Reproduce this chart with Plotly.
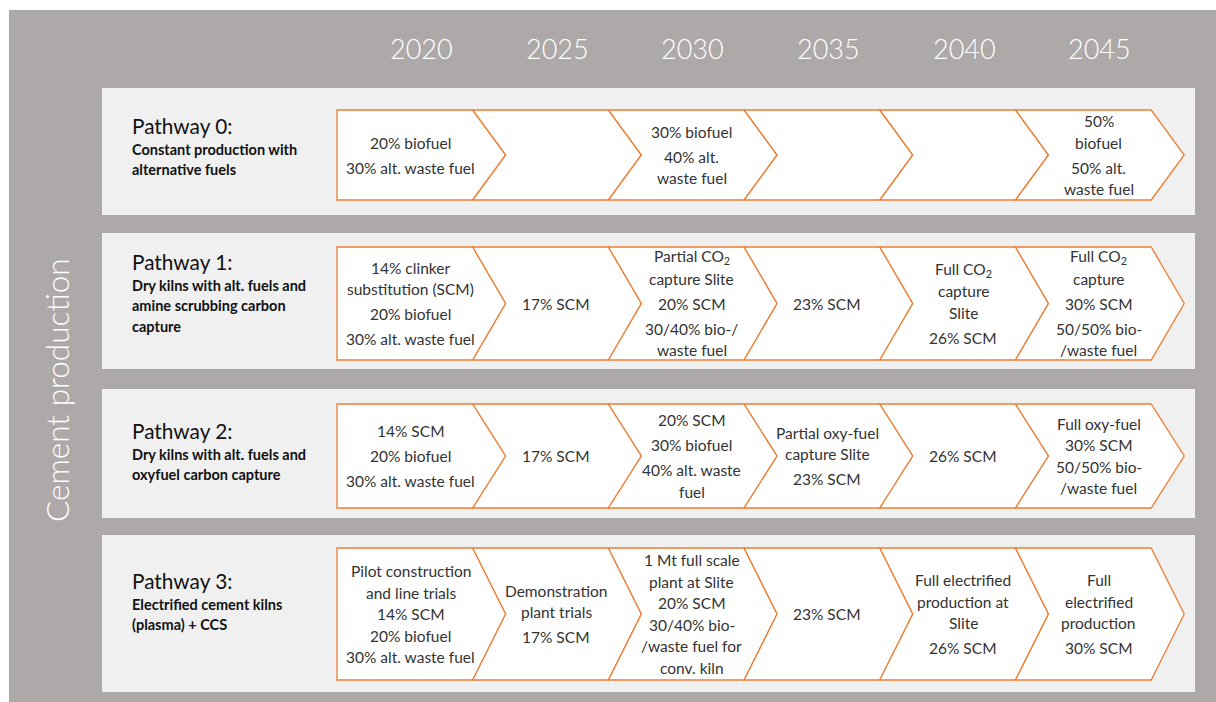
import plotly.graph_objects as go

# ---------------- data ----------------
years = ["2020", "2025", "2030", "2035", "2040", "2045"]
side_title = "Cement production"

pathway_titles = ["Pathway 0:", "Pathway 1:", "Pathway 2:", "Pathway 3:"]
pathway_subtitles = [
    ["Constant production with", "alternative fuels"],
    ["Dry kilns with alt. fuels and", "amine scrubbing carbon", "capture"],
    ["Dry kilns with alt. fuels and", "oxyfuel carbon capture"],
    ["Electrified cement kilns", "(plasma) + CCS"],
]

CO2 = "CO<sub>2</sub>"
# each cell = list of paragraphs, each paragraph = list of lines
pathway0_cells = [
    [["20% biofuel"], ["30% alt. waste fuel"]],
    [],
    [["30% biofuel"], ["40% alt.", "waste fuel"]],
    [],
    [],
    [["50%", "biofuel"], ["50% alt.", "waste fuel"]],
]
pathway1_cells = [
    [["14% clinker", "substitution (SCM)"], ["20% biofuel"], ["30% alt. waste fuel"]],
    [["17% SCM"]],
    [["Partial " + CO2, "capture Slite"], ["20% SCM"], ["30/40% bio-/", "waste fuel"]],
    [["23% SCM"]],
    [["Full " + CO2, "capture", "Slite"], ["26% SCM"]],
    [["Full " + CO2, "capture"], ["30% SCM"], ["50/50% bio-", "/waste fuel"]],
]
pathway2_cells = [
    [["14% SCM"], ["20% biofuel"], ["30% alt. waste fuel"]],
    [["17% SCM"]],
    [["20% SCM"], ["30% biofuel"], ["40% alt. waste", "fuel"]],
    [["Partial oxy-fuel", "capture Slite"], ["23% SCM"]],
    [["26% SCM"]],
    [["Full oxy-fuel", "30% SCM", "50/50% bio-", "/waste fuel"]],
]
pathway3_cells = [
    [["Pilot construction", "and line trials", "14% SCM", "20% biofuel", "30% alt. waste fuel"]],
    [["Demonstration", "plant trials"], ["17% SCM"]],
    [["1 Mt full scale", "plant at Slite", "20% SCM", "30/40% bio-", "/waste fuel for", "conv. kiln"]],
    [["23% SCM"]],
    [["Full electrified", "production at", "Slite"], ["26% SCM"]],
    [["Full", "electrified", "production"], ["30% SCM"]],
]
all_cells = [pathway0_cells, pathway1_cells, pathway2_cells, pathway3_cells]

# ---------------- layout / style ----------------
W, H = 1216, 702
GRAY = "#ADA9A8"
PANEL = "#F0F0F0"
ORANGE = "#ED7D31"
FONT = "Lato, Calibri, sans-serif"

outer = (9, 10, 1216, 702)
panel_x = (102, 1195)
panel_y = [(88, 215), (233, 369), (389, 518), (535, 692)]
chev_y = [(110, 200), (247, 360), (404, 508), (548, 680)]
title_y = [125, 261, 430, 580]
x0, step, tip = 337, 135.7, 33
LH, PG = 21.5, 25.0

fig = go.Figure()
fig.add_trace(go.Scatter(x=[0, W], y=[0, H], mode="markers",
                         marker=dict(opacity=0), hoverinfo="skip"))

shapes = []
annotations = []

shapes.append(dict(type="rect", xref="x", yref="y", x0=outer[0], y0=outer[1],
                   x1=outer[2], y1=outer[3], fillcolor=GRAY, line=dict(width=0),
                   layer="below"))
for (py0, py1) in panel_y:
    shapes.append(dict(type="rect", xref="x", yref="y", x0=panel_x[0], y0=py0,
                       x1=panel_x[1], y1=py1, fillcolor=PANEL, line=dict(width=0),
                       layer="below"))

# year headers
for k, yr in enumerate(years):
    L = x0 + k * step
    annotations.append(dict(x=L + step / 2 + tip / 2, y=48, xref="x", yref="y",
                            text=yr, showarrow=False, xanchor="center", yanchor="middle",
                            font=dict(family=FONT, size=27, color="white", weight=300)))

# side title
annotations.append(dict(x=57, y=390, xref="x", yref="y", text=side_title,
                        showarrow=False, textangle=-90, xanchor="center", yanchor="middle",
                        font=dict(family=FONT, size=31.5, color="white", weight=300)))

for r in range(4):
    T, B = chev_y[r]
    M = (T + B) / 2
    # pathway label
    annotations.append(dict(x=130, y=title_y[r], xref="x", yref="y", text=pathway_titles[r],
                            showarrow=False, xanchor="left", yanchor="middle",
                            font=dict(family=FONT, size=20.8, color="#111111")))
    for i, line in enumerate(pathway_subtitles[r]):
        annotations.append(dict(x=130, y=title_y[r] + 24 + i * 20.5, xref="x", yref="y",
                                text="<b>" + line + "</b>", showarrow=False,
                                xanchor="left", yanchor="middle",
                                font=dict(family=FONT, size=14.5, color="#111111")))
    # chevrons
    for k in range(6):
        L = x0 + k * step
        R = L + step
        if k == 0:
            path = f"M {L},{T} L {R},{T} L {R + tip},{M} L {R},{B} L {L},{B} Z"
        else:
            path = (f"M {L},{T} L {R},{T} L {R + tip},{M} L {R},{B} L {L},{B} "
                    f"L {L + tip},{M} Z")
        shapes.append(dict(type="path", xref="x", yref="y", path=path,
                           fillcolor="white", line=dict(color=ORANGE, width=1.3)))
        # cell text
        paras = all_cells[r][k]
        if not paras:
            continue
        ys = []
        cur = 0.0
        for pi, para in enumerate(paras):
            for li, _ in enumerate(para):
                if pi == 0 and li == 0:
                    ys.append(cur)
                elif li == 0:
                    cur += PG
                    ys.append(cur)
                else:
                    cur += LH
                    ys.append(cur)
        offset = M - cur / 2
        lines = [ln for para in paras for ln in para]
        cx = (L + step / 2 + 6) if k == 0 else (L + step / 2 + tip / 2 - 1)
        for ln, yy in zip(lines, ys):
            annotations.append(dict(x=cx, y=yy + offset, xref="x", yref="y", text=ln,
                                    showarrow=False, xanchor="center", yanchor="middle",
                                    font=dict(family=FONT, size=15.5, color="#333333")))

fig.update_layout(
    width=W, height=H, margin=dict(l=0, r=0, t=0, b=0),
    paper_bgcolor="white", plot_bgcolor="white", showlegend=False,
    xaxis=dict(range=[0, W], visible=False, fixedrange=True),
    yaxis=dict(range=[H, 0], visible=False, fixedrange=True),
    shapes=shapes, annotations=annotations,
)
# remove the default page margin so the figure fills the window exactly
fig.write_html("out.html", config=dict(displayModeBar=False),
               post_script="document.body.style.margin='0';document.body.style.overflow='hidden';")
